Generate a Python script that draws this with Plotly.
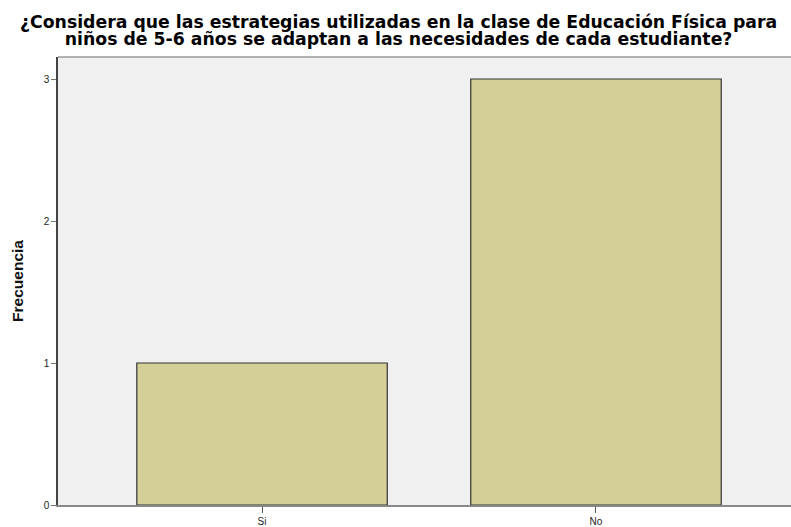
import plotly.graph_objects as go

categories = ["Si", "No"]
frecuencia = [1, 3]
y_ticks = [0, 1, 2, 3]
title_lines = ["¿Considera que las estrategias utilizadas en la clase de Educación Física para",
               "niños de 5-6 años se adaptan a las necesidades de cada estudiante?"]

fig = go.Figure()
fig.add_trace(go.Bar(
    x=categories, y=frecuencia, width=0.75,
    marker=dict(color="#d3cf97", line=dict(color="#333333", width=1.2)),
))

fig.update_layout(
    width=791, height=527,
    margin=dict(l=58, r=0, t=57, b=22),
    paper_bgcolor="white", plot_bgcolor="#f0f0f0",
    showlegend=False,
    font=dict(family="Liberation Sans, Arial", color="#222"),
)
title_html = "<br>".join('<span style="font-size:17.3px">%s</span>' % t for t in title_lines)
fig.add_annotation(
    text=title_html, xref="paper", yref="paper", x=0.465, y=1, yshift=6,
    xanchor="center", yanchor="bottom", showarrow=False, align="center",
    font=dict(family="DejaVu Sans", size=12.8, color="black", weight="bold"),
)
fig.update_xaxes(
    range=[-0.611, 1.584], showgrid=False, zeroline=False,
    showline=True, linecolor="#888888", linewidth=2,
    ticks="outside", ticklen=6, tickcolor="#555555",
    tickfont=dict(size=10, color="#222"),
)
fig.update_yaxes(
    range=[0, 3.155], tickvals=y_ticks, showgrid=False, zeroline=False,
    showline=True, linecolor="#444444", linewidth=1.5,
    ticks="outside", ticklen=5, tickcolor="#777777",
    tickfont=dict(size=10, color="#222"),
    title=dict(text="<b>Frecuencia</b>", font=dict(size=15.5, color="#111"), standoff=16),
)
fig.add_shape(type="line", xref="paper", yref="paper", x0=0, x1=1, y0=1, y1=1,
              line=dict(color="#999999", width=1.5))

fig.write_html("out.html", config={"displayModeBar": False},
               post_script="document.body.style.margin='0';document.body.style.overflow='hidden';")
